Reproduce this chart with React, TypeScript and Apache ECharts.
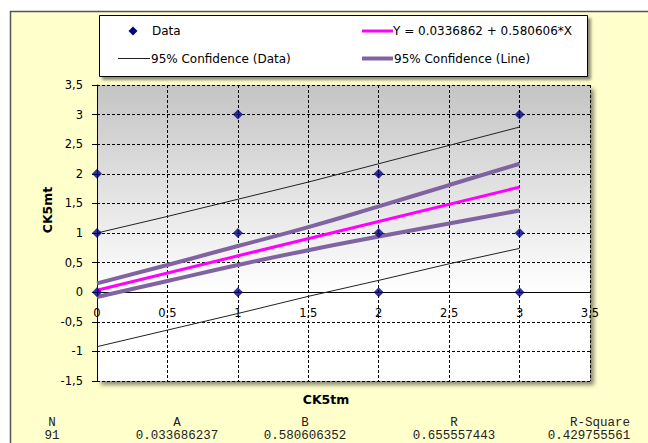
import React, { useEffect, useRef } from "react";
import * as echarts from "echarts";

// ---- data ----
const pointsX = [0, 0, 0, 1, 1, 1, 2, 2, 2, 3, 3, 3];
const pointsY = [0, 1, 2, 0, 1, 3, 0, 1, 2, 0, 1, 3];

const fitX = [0, 3];
const fitY = [0.0336862, 1.7754862];

const bandX = [0, 0.5, 1, 1.5, 2, 2.5, 3];
const lineUpper = [0.15, 0.46, 0.78, 1.1, 1.45, 1.81, 2.17];
const lineLower = [-0.08, 0.19, 0.46, 0.71, 0.94, 1.16, 1.38];
const dataUpper = [1.0, 1.28, 1.57, 1.86, 2.17, 2.48, 2.79];
const dataLower = [-0.92, -0.64, -0.36, -0.07, 0.2, 0.48, 0.74];

const legendNames = [
  "Data",
  "Y = 0.0336862 + 0.580606*X",
  "95% Confidence (Data)",
  "95% Confidence (Line)",
];

const statLabels = ["N", "A", "B", "R", "R-Square"];
const statValues = ["91", "0.033686237", "0.580606352", "0.655557443", "0.429755561"];

const xTitle = "CK5tm";
const yTitle = "CK5mt";

const X_MIN = 0, X_MAX = 3.5, Y_MIN = -1.5, Y_MAX = 3.5, STEP = 0.5;

const FONT = "'DejaVu Sans', Tahoma, sans-serif";
const MONO = "'Liberation Mono', 'DejaVu Sans Mono', monospace";
const PURPLE = "#8064A2";
const NAVY = "#000080";

const zip = (xs: number[], ys: number[]) => xs.map((x, i) => [x, ys[i]]);
const comma = (v: number) => String(v).replace(".", ",");

export default function App() {
  const ref = useRef<HTMLDivElement>(null);

  useEffect(() => {
    if (!ref.current) return;
    const chart = echarts.init(ref.current, undefined, { renderer: "svg" });

    const gridTop = 85;
    const gridH = 296;
    // distance from the bottom of the grid to the y = 0 line
    const zeroOffset = -(gridH * (0 - Y_MIN)) / (Y_MAX - Y_MIN);

    const statX = [52, 177, 305, 454, 600];
    const statVX = [52, 177, 305, 454, 589];

    const txt = (text: string, x: number, y: number, extra: any = {}) => ({
      type: "text",
      z: 51,
      x,
      y,
      style: { text, font: `12px ${FONT}`, fill: "#000", verticalAlign: "middle", ...extra },
    });

    const graphics: any[] = [
      {
        type: "rect",
        z: -10,
        shape: { x: 10.5, y: 11.5, width: 700, height: 500 },
        style: { fill: "#FFFFCC", stroke: "#555555", lineWidth: 1.5 },
      },
      // legend box
      {
        type: "rect",
        z: 50,
        shape: { x: 99.5, y: 15.5, width: 488, height: 61 },
        style: {
          fill: "#ffffff",
          stroke: "#000000",
          lineWidth: 1,
          shadowBlur: 3,
          shadowOffsetX: 3,
          shadowOffsetY: 3,
          shadowColor: "rgba(0,0,0,0.45)",
        },
      },
      {
        type: "polygon",
        z: 51,
        shape: { points: [[133, 26.5], [137.5, 31], [133, 35.5], [128.5, 31]] },
        style: { fill: NAVY },
      },
      txt(legendNames[0], 152, 31),
      {
        type: "line",
        z: 51,
        shape: { x1: 362, y1: 31, x2: 393, y2: 31 },
        style: { stroke: "#FF00FF", lineWidth: 3 },
      },
      txt(legendNames[1], 393, 31),
      {
        type: "line",
        z: 51,
        shape: { x1: 118, y1: 58.5, x2: 150, y2: 58.5 },
        style: { stroke: "#222", lineWidth: 1 },
      },
      txt(legendNames[2], 151, 58.5),
      {
        type: "line",
        z: 51,
        shape: { x1: 362, y1: 58.5, x2: 393, y2: 58.5 },
        style: { stroke: PURPLE, lineWidth: 4 },
      },
      txt(legendNames[3], 394, 58.5),
      // axis titles
      {
        type: "text",
        z: 51,
        x: 47,
        y: 210,
        rotation: Math.PI / 2,
        style: {
          text: yTitle,
          font: `bold 12.5px ${FONT}`,
          fill: "#000",
          align: "center",
          verticalAlign: "middle",
        },
      },
      {
        type: "text",
        z: 51,
        x: 326,
        y: 399,
        style: {
          text: xTitle,
          font: `bold 12.5px ${FONT}`,
          fill: "#000",
          align: "center",
          verticalAlign: "middle",
        },
      },
    ];

    statLabels.forEach((s, i) => {
      graphics.push({
        type: "text",
        z: 51,
        x: statX[i],
        y: 423,
        style: {
          text: s,
          font: `12.5px ${MONO}`,
          lineHeight: 12,
          fill: "#222",
          align: "center",
          verticalAlign: "middle",
        },
      });
      graphics.push({
        type: "text",
        z: 51,
        x: statVX[i],
        y: 436,
        style: {
          text: statValues[i],
          font: `12.5px ${MONO}`,
          lineHeight: 12,
          fill: "#222",
          align: "center",
          verticalAlign: "middle",
        },
      });
    });

    const splitStyle = { color: "#000", width: 1, type: [3, 2] as any };

    chart.setOption({
      animation: false,
      backgroundColor: "#ffffff",
      grid: {
        left: 97,
        top: gridTop,
        width: 493,
        height: gridH,
        show: true,
        borderWidth: 0,
        backgroundColor: new echarts.graphic.LinearGradient(0, 0, 0, 1, [
          { offset: 0, color: "#c4c4c4" },
          { offset: 0.7, color: "#ffffff" },
          { offset: 1, color: "#ffffff" },
        ]),
        shadowColor: "rgba(0,0,0,0.45)",
        shadowBlur: 4,
        shadowOffsetX: 4,
        shadowOffsetY: 4,
      },
      xAxis: {
        type: "value",
        position: "bottom",
        offset: zeroOffset,
        min: X_MIN,
        max: X_MAX,
        interval: STEP,
        axisLine: { show: true, onZero: false, lineStyle: { color: "#000", width: 1 } },
        axisTick: { show: false },
        axisLabel: {
          formatter: comma,
          color: "#000",
          fontFamily: FONT,
          fontSize: 11.5,
          margin: 15,
          showMinLabel: true,
          showMaxLabel: true,
        },
        splitLine: { show: true, lineStyle: splitStyle },
      },
      yAxis: {
        type: "value",
        min: Y_MIN,
        max: Y_MAX,
        interval: STEP,
        axisLine: { show: true, onZero: false, lineStyle: { color: "#000", width: 1 } },
        axisTick: { show: true, inside: false, length: 5, lineStyle: { color: "#000" } },
        axisLabel: {
          formatter: comma,
          color: "#000",
          fontFamily: FONT,
          fontSize: 11.5,
          margin: 14,
        },
        splitLine: { show: true, lineStyle: splitStyle },
      },
      series: [
        {
          name: legendNames[2] + " upper",
          type: "line",
          data: zip(bandX, dataUpper),
          symbol: "none",
          lineStyle: { color: "#222", width: 1 },
          z: 3,
        },
        {
          name: legendNames[2] + " lower",
          type: "line",
          data: zip(bandX, dataLower),
          symbol: "none",
          lineStyle: { color: "#222", width: 1 },
          z: 3,
        },
        {
          name: legendNames[3] + " upper",
          type: "line",
          data: zip(bandX, lineUpper),
          symbol: "none",
          smooth: true,
          lineStyle: { color: PURPLE, width: 4 },
          z: 4,
        },
        {
          name: legendNames[3] + " lower",
          type: "line",
          data: zip(bandX, lineLower),
          symbol: "none",
          smooth: true,
          lineStyle: { color: PURPLE, width: 4 },
          z: 4,
        },
        {
          name: legendNames[1],
          type: "line",
          data: zip(fitX, fitY),
          symbol: "none",
          lineStyle: { color: "#FF00FF", width: 3 },
          z: 5,
        },
        {
          name: legendNames[0],
          type: "scatter",
          data: zip(pointsX, pointsY),
          symbol: "diamond",
          symbolSize: 10,
          itemStyle: { color: NAVY },
          z: 6,
        },
      ],
      graphic: { elements: graphics },
    });

    return () => chart.dispose();
  }, []);

  return (
    <div
      ref={ref}
      style={{ position: "absolute", left: 0, top: 0, width: 648, height: 443 }}
    />
  );
}
